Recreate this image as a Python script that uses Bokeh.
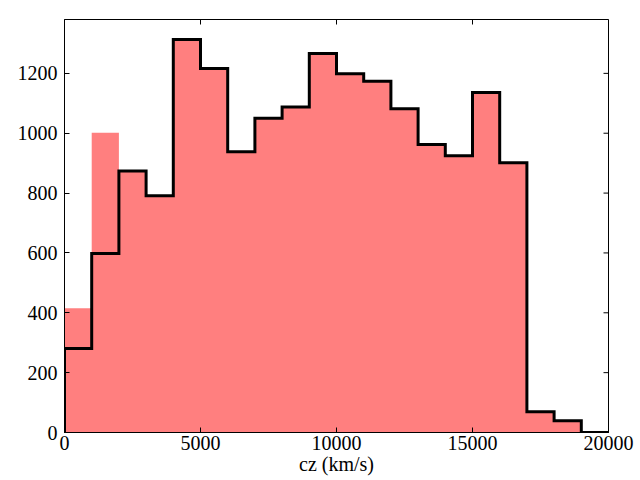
import numpy as np
from bokeh.plotting import figure
from bokeh.models import FixedTicker, Range1d
from bokeh.embed import file_html
from bokeh.resources import INLINE

# bin edges (km/s)
bin_edges = [0, 1000, 2000, 3000, 4000, 5000, 6000, 7000, 8000, 9000, 10000,
             11000, 12000, 13000, 14000, 15000, 16000, 17000, 18000, 19000, 20000]
# filled (red) histogram counts
red_counts = [415, 1002, 874, 791, 1313, 1216, 938, 1050, 1088, 1266, 1199,
              1174, 1082, 962, 925, 1136, 901, 69, 39, 0]
# outlined (black step) histogram counts
step_counts = [281, 598, 874, 791, 1313, 1216, 938, 1050, 1088, 1266, 1199,
               1174, 1082, 962, 925, 1136, 901, 69, 39, 0]

x_ticks = [0, 5000, 10000, 15000, 20000]
y_ticks = [0, 200, 400, 600, 800, 1000, 1200]
X_MAX = 20000
Y_MAX = 1380

FONT = "Liberation Serif"
FS = "20px"

p = figure(width=640, height=480, output_backend="svg", toolbar_location=None,
           x_range=Range1d(0, X_MAX), y_range=Range1d(0, Y_MAX),
           min_border_left=64, min_border_top=19, min_border_right=32,
           min_border_bottom=48)
p.background_fill_color = "white"
p.border_fill_color = "white"
p.grid.visible = False
p.outline_line_color = "black"
p.outline_line_width = 1

edges = np.array(bin_edges, dtype=float)
red_y = list(red_counts) + [red_counts[-1]]
p.varea_step(x=edges, y1=np.zeros(len(edges)), y2=red_y, step_mode="after",
             fill_color="red", fill_alpha=0.5)

# step outline like matplotlib histtype='step'
sx = [edges[0]]
sy = [0]
for i, c in enumerate(step_counts):
    sx += [edges[i], edges[i + 1]]
    sy += [c, c]
sx.append(edges[-1])
sy.append(0)
p.line(sx, sy, line_color="black", line_width=3, line_join="miter")

# inward ticks on the top and right edges (clipped dash markers)
p.scatter(x=x_ticks, y=[Y_MAX] * len(x_ticks), marker="dash", size=10,
          angle=np.pi / 2, line_color="black", line_width=1)
p.scatter(x=[X_MAX] * len(y_ticks), y=y_ticks, marker="dash", size=10,
          line_color="black", line_width=1)

for ax in (p.xaxis[0], p.yaxis[0]):
    ax.major_tick_in = 5
    ax.major_tick_out = 0
    ax.minor_tick_in = 0
    ax.minor_tick_out = 0
    ax.axis_line_color = "black"
    ax.major_tick_line_color = "black"
    ax.major_label_text_font = FONT
    ax.major_label_text_font_size = FS
    ax.major_label_text_color = "black"

p.xaxis.ticker = FixedTicker(ticks=x_ticks)
p.yaxis.ticker = FixedTicker(ticks=y_ticks)
p.xaxis[0].major_label_standoff = 3
p.yaxis[0].major_label_standoff = 7

p.xaxis[0].axis_label = "cz (km/s)"
p.xaxis[0].axis_label_standoff = 0
p.xaxis[0].axis_label_text_font = FONT
p.xaxis[0].axis_label_text_font_size = FS
p.xaxis[0].axis_label_text_font_style = "normal"
p.xaxis[0].axis_label_text_color = "black"

open("out.html", "w").write(file_html(p, INLINE))
